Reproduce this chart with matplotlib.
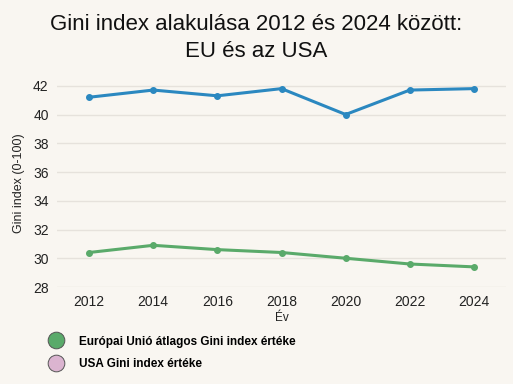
import matplotlib
matplotlib.use("Agg")
import matplotlib.pyplot as plt
from matplotlib.lines import Line2D

years = [2012, 2014, 2016, 2018, 2020, 2022, 2024]
eu_values = [30.4, 30.9, 30.6, 30.4, 30.0, 29.6, 29.4]
usa_values = [41.2, 41.7, 41.3, 41.8, 40.0, 41.7, 41.8]
yticks = [28, 30, 32, 34, 36, 38, 40, 42]
legend_labels = ["Európai Unió átlagos Gini index értéke", "USA Gini index értéke"]

bg = "#f9f6f1"
plt.rcParams['font.family'] = ['Liberation Sans', 'DejaVu Sans']

fig = plt.figure(figsize=(5.13, 3.84), dpi=100, facecolor=bg)
ax = fig.add_axes([57/513, 1-287/384, (506-57)/513, (287-80)/384])
ax.set_facecolor(bg)

ax.plot(years, usa_values, color="#2b88c0", lw=2.2, marker="o", ms=4, clip_on=False, zorder=3)
ax.plot(years, eu_values, color="#5aaa6a", lw=2.2, marker="o", ms=4, clip_on=False, zorder=3)

ax.set_xlim(2011, 2025)
ax.set_ylim(28, 42.4)
ax.set_xticks(years)
ax.set_yticks(yticks)
ax.grid(axis="y", color="#e6e2dc", lw=1)
ax.set_axisbelow(True)
for s in ax.spines.values():
    s.set_visible(False)
ax.tick_params(length=0, labelsize=10, colors="#222222", pad=6)
ax.set_ylabel("Gini index (0-100)", fontsize=9, color="#222222", labelpad=6)
ax.set_xlabel("Év", fontsize=8.5, color="#222222", labelpad=2)

fig.text(0.5, 1-38/384, "Gini index alakulása 2012 és 2024 között:\nEU és az USA",
         ha="center", va="center", fontsize=16, color="#111111", linespacing=1.35)

handles = [Line2D([], [], ls="", marker="o", ms=12, markerfacecolor="#5aaa6a", markeredgecolor="#555555", markeredgewidth=0.7),
           Line2D([], [], ls="", marker="o", ms=12, markerfacecolor="#dbb4d0", markeredgecolor="#555555", markeredgewidth=0.7)]
leg = fig.legend(handles, legend_labels, loc="upper left", bbox_to_anchor=(34/513, 1-325/384),
                 frameon=False, prop={"weight": "bold", "size": 8.5}, handletextpad=0.9,
                 labelspacing=0.85)

fig.savefig("out.png", dpi=100, facecolor=bg)
